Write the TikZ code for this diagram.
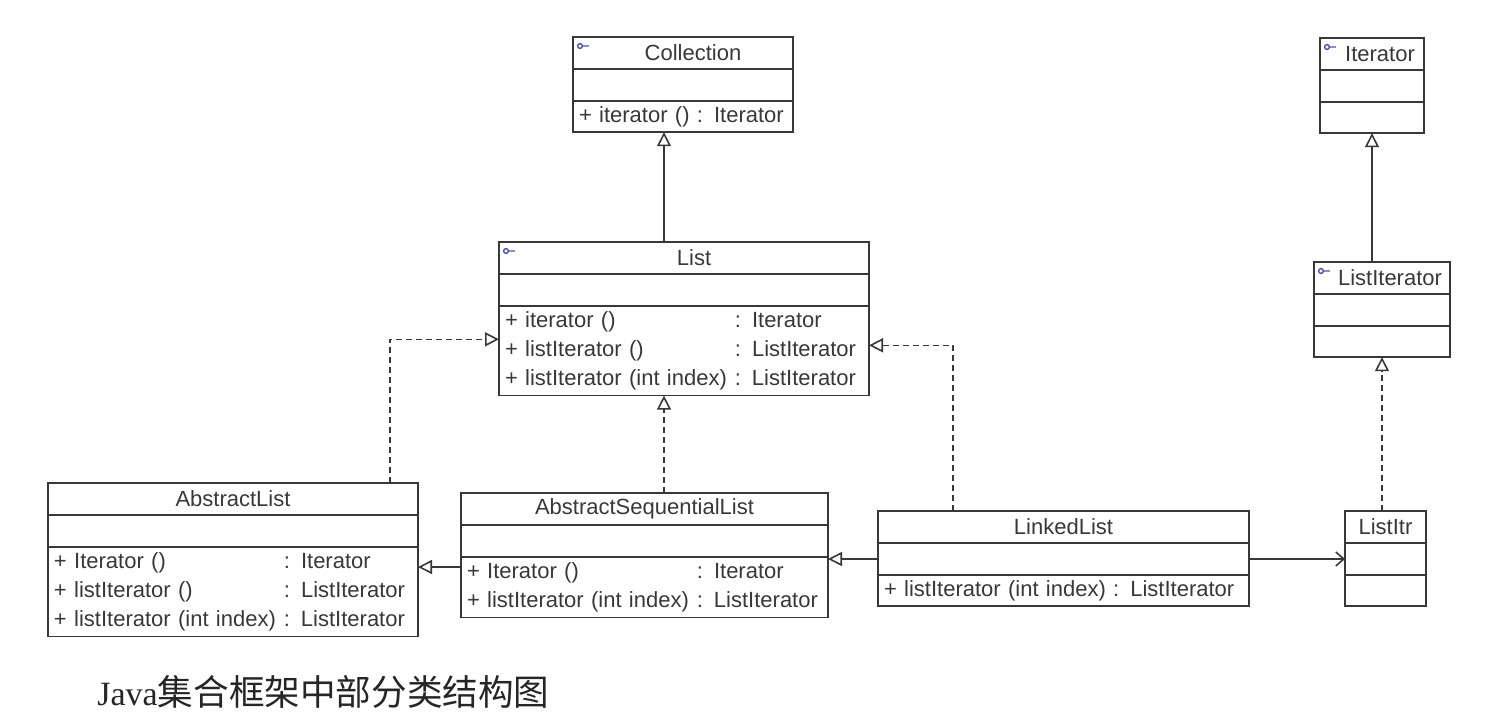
\documentclass[tikz,border=0pt]{standalone}
\usepackage{fontspec}
\setmainfont{Liberation Sans}
\newfontfamily\capserif{Liberation Serif}
\newfontfamily\cjk{Noto Sans CJK SC}
\usetikzlibrary{arrows.meta, positioning}
\definecolor{umlgray}{HTML}{383838}
\definecolor{ifblue}{HTML}{5050B0}
\tikzset{
  hdr/.style={rectangle, draw=umlgray, line width=0.8pt, minimum height=16pt,
              inner sep=0pt, outer sep=0pt, text=umlgray,
              font=\fontsize{11}{13}\selectfont},
  cmp/.style={rectangle, draw=umlgray, line width=0.8pt, minimum height=16pt,
              inner sep=0pt, outer sep=0pt},
  ops/.style={rectangle, draw=umlgray, line width=0.8pt, minimum height=15.6pt,
              inner xsep=3pt, inner ysep=0.5pt, outer sep=0pt, align=left,
              text=umlgray, font=\fontsize{11}{14.6}\selectfont},
  gen/.style={-{Triangle[open, length=7pt, width=7pt]}, line width=0.8pt, draw=umlgray},
  real/.style={gen, dash pattern=on 3pt off 2pt},
  assoc/.style={-{Straight Barb[length=4pt, width=7pt]}, line width=0.8pt, draw=umlgray},
  ifmark/.style={draw=ifblue, line width=0.7pt},
}

\begin{document}
\begin{tikzpicture}[x=0.5pt, y=-0.5pt]
  \useasboundingbox (0,0) rectangle (1496,718);
  \coordinate (spine) at (664,0);

  % interfaces
  \node[hdr, minimum width=110pt, anchor=north west] (coll) at (573,37) {\hspace{10pt}Collection};
  \node[cmp, minimum width=110pt, below=0pt of coll] (coll-a) {};
  \node[ops, text width=104pt, below=0pt of coll-a] (coll-m) {+ iterator () : Iterator};

  \node[hdr, minimum width=185pt, anchor=north west] (list) at (499,242) {\hspace{10pt}List};
  \node[cmp, minimum width=185pt, below=0pt of list] (list-a) {};
  \node[ops, text width=179pt, below=0pt of list-a] (list-m) {%
    \begin{tabular}{@{}l@{\hspace{4pt}}l@{}}
      + iterator () & : Iterator\\
      + listIterator () & : ListIterator\\
      + listIterator (int index) & : ListIterator
    \end{tabular}};

  \node[hdr, minimum width=52pt, anchor=north west] (iter) at (1320,38) {\hspace{8pt}Iterator};
  \node[cmp, minimum width=52pt, below=0pt of iter] (iter-a) {};
  \node[cmp, minimum width=52pt, minimum height=15.6pt, below=0pt of iter-a] (iter-m) {};

  \node[hdr, minimum width=68pt, anchor=north west] (litr) at (1314,262) {\hspace{8pt}ListIterator};
  \node[cmp, minimum width=68pt, below=0pt of litr] (litr-a) {};
  \node[cmp, minimum width=68pt, minimum height=15.6pt, below=0pt of litr-a] (litr-m) {};

  % classes
  \node[hdr, minimum width=185pt, anchor=north west] (alst) at (48,483) {AbstractList};
  \node[cmp, minimum width=185pt, below=0pt of alst] (alst-a) {};
  \node[ops, text width=179pt, below=0pt of alst-a] (alst-m) {%
    \begin{tabular}{@{}l@{\hspace{4pt}}l@{}}
      + Iterator () & : Iterator\\
      + listIterator () & : ListIterator\\
      + listIterator (int index) & : ListIterator
    \end{tabular}};

  \node[hdr, minimum width=183.5pt, anchor=north west] (asl) at (461,493) {AbstractSequentialList};
  \node[cmp, minimum width=183.5pt, below=0pt of asl] (asl-a) {};
  \node[ops, text width=177.5pt, below=0pt of asl-a] (asl-m) {%
    \begin{tabular}{@{}l@{\hspace{4pt}}l@{}}
      + Iterator () & : Iterator\\
      + listIterator (int index) & : ListIterator
    \end{tabular}};

  \node[hdr, minimum width=185.5pt, anchor=north west] (llst) at (878,511) {LinkedList};
  \node[cmp, minimum width=185.5pt, below=0pt of llst] (llst-a) {};
  \node[ops, text width=179.5pt, below=0pt of llst-a] (llst-m) {+ listIterator (int index) : ListIterator};

  \node[hdr, minimum width=40.5pt, anchor=north west] (itr) at (1345,511) {ListItr};
  \node[cmp, minimum width=40.5pt, below=0pt of itr] (itr-a) {};
  \node[cmp, minimum width=40.5pt, minimum height=15.6pt, below=0pt of itr-a] (itr-m) {};

  % interface marks
  \foreach \n in {coll, list, iter, litr}
    \draw[ifmark] ([xshift=3.5pt, yshift=-4.5pt]\n.north west) circle (1.2pt)
      ++(1.2pt,0) -- ++(3.2pt,0);

  % generalization / realization
  \draw[gen]  (list.north -| spine) -- (coll-m.south -| spine);
  \draw[gen]  (litr.north -| iter-m.south) -- (iter-m.south);
  \draw[real] (itr.north -| litr-m.south) -- (litr-m.south);
  \draw[real] ([xshift=-14pt]alst.north east) |- ([yshift=5.75pt]list-m.west);
  \draw[real] ([xshift=37.5pt]llst.north west) |- ([yshift=2.75pt]list-m.east);
  \draw[real] (asl.north -| spine) -- (list-m.south -| spine);

  \coordinate (gA) at ([yshift=-5pt]asl-m.north west);
  \draw[gen] (gA) -- (gA -| alst-m.east);
  \draw[gen] (llst-a.west) -- (llst-a.west -| asl-m.east);

  % association
  \draw[assoc] (llst-a.east) -- (itr-a.west);

  % caption
  \node[anchor=base west, inner sep=0pt, text=black!85] (caption) at (97,705)
    {\capserif\fontsize{17}{20}\selectfont Java\cjk\fontsize{17.8}{20}\selectfont 集合框架中部分类结构图};
\end{tikzpicture}
\end{document}
